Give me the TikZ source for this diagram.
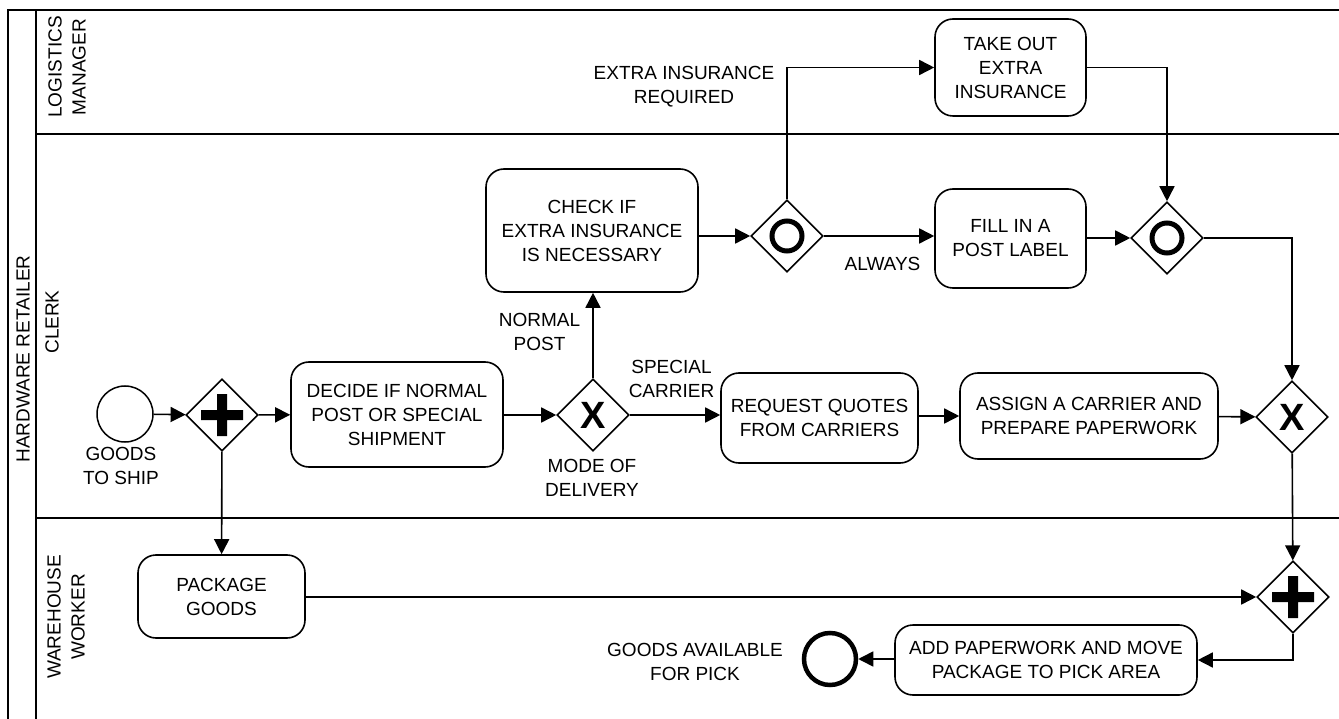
\documentclass[tikz,border=0pt]{standalone}
\usepackage{fontspec}
\setmainfont{Liberation Sans}
\usetikzlibrary{arrows.meta,shapes.geometric}
\begin{document}
\begin{tikzpicture}[x=1pt,y=-1pt,
  every node/.style={font=\fontsize{19}{24}\selectfont, align=center, inner sep=0pt},
  lane/.style={line width=2pt},
  task/.style={draw, line width=1.6pt, rounded corners=18pt},
  gate/.style={draw, diamond, line width=1.6pt, minimum width=72pt, minimum height=72pt},
  flow/.style={line width=1.6pt, -{Triangle[length=15pt,width=15pt]}},
  ring/.style={line width=5pt}]
\useasboundingbox (0,0) rectangle (1339,719);
% pool and lanes
\draw[lane] (1339,10) -- (8,10) -- (8,719);
\draw[lane] (36,10) -- (36,719);
\draw[lane] (36,134) -- (1339,134);
\draw[lane] (36,518) -- (1339,518);
\node[rotate=90] (pool) at (23,359) {HARDWARE RETAILER};
\node[rotate=90] (lmgr) at (67,67) {LOGISTICS\\MANAGER};
\node[rotate=90] (lclerk) at (52,322) {CLERK};
\node[rotate=90] (lware) at (66,617) {WAREHOUSE\\WORKER};
% events
\node[draw, circle, line width=1.5pt, minimum size=56pt] (start) at (125,414) {};
\node (startl) at (121,466) {GOODS\\TO SHIP};
\node[draw, circle, line width=4.5pt, minimum size=52pt] (end) at (830,659) {};
\node (endl) at (695,661.5) {GOODS AVAILABLE\\FOR PICK};
% gateways
\node[gate] (pg1) at (222,415) {};
\fill[shift={(pg1.center)}] (-21,-5) rectangle (21,5) (-5,-21) rectangle (5,21);
\node[gate] (xg1) at (593,415) {};
\node (xg1m) at (xg1.center) {\fontsize{38}{38}\selectfont\bfseries X};
\node[gate] (or1) at (787,236) {};
\draw[ring] (or1.center) circle[radius=15pt];
\node[gate] (or2) at (1167,238) {};
\draw[ring] (or2.center) circle[radius=15pt];
\node[gate] (xg2) at (1292,417) {};
\node (xg2m) at (xg2.center) {\fontsize{38}{38}\selectfont\bfseries X};
\node[gate] (pg2) at (1293,597) {};
\fill[shift={(pg2.center)}] (-21,-5) rectangle (21,5) (-5,-21) rectangle (5,21);
% tasks
\node[task, minimum width=212pt, minimum height=105pt] (decide) at (397,414.5) {DECIDE IF NORMAL\\POST OR SPECIAL\\SHIPMENT};
\node[task, minimum width=167pt, minimum height=83pt] (package) at (221.5,596.5) {PACKAGE\\GOODS};
\node[task, minimum width=212pt, minimum height=123pt] (check) at (592,230.5) {CHECK IF\\EXTRA INSURANCE\\IS NECESSARY};
\node[task, minimum width=197pt, minimum height=90pt] (req) at (819.5,418) {REQUEST QUOTES\\FROM CARRIERS};
\node[task, minimum width=258pt, minimum height=86pt] (assign) at (1089,416) {ASSIGN A CARRIER AND\\PREPARE PAPERWORK};
\node[task, minimum width=151pt, minimum height=97pt] (take) at (1010.5,67.5) {TAKE OUT\\EXTRA\\INSURANCE};
\node[task, minimum width=151pt, minimum height=99pt] (fill) at (1010.5,238.5) {FILL IN A\\POST LABEL};
\node[task, minimum width=302pt, minimum height=70pt] (add) at (1046,660) {ADD PAPERWORK AND MOVE\\PACKAGE TO PICK AREA};
% labels
\node (lext) at (684,86.5) {EXTRA INSURANCE\\REQUIRED};
\node (lnorm) at (539.5,331.5) {NORMAL\\POST};
\node (lspec) at (671.5,378.5) {SPECIAL\\CARRIER};
\node (lmode) at (592,477.5) {MODE OF\\DELIVERY};
\node (lalw) at (882.5,264) {ALWAYS};
% flows
\draw[flow] (start) -- (pg1);
\draw[flow] (pg1) -- (decide);
\draw[flow] (pg1) -- (package);
\draw[flow] (decide.east |- xg1) -- (xg1);
\draw[flow] (xg1) -- (xg1 |- check.south);
\draw[flow] (xg1) -- (xg1 -| req.west);
\draw[flow] (req.east |- assign) -- (assign);
\draw[flow] (assign) -- (xg2);
\draw[flow] (check.east |- or1) -- (or1);
\draw[flow] (or1) -- (or1 -| fill.west);
\draw[flow] (fill.east |- or2) -- (or2);
\draw[flow] (or1.north) |- (take.west);
\draw[flow] (take.east) -| (or2.north);
\draw[flow] (or2.east) -| (xg2.north);
\draw[flow] (xg2) -- (pg2);
\draw[flow] (package.east |- pg2) -- (pg2);
\draw[flow] (pg2.south) |- (add.east);
\draw[flow] (add.west |- end) -- (end);
\end{tikzpicture}
\end{document}
